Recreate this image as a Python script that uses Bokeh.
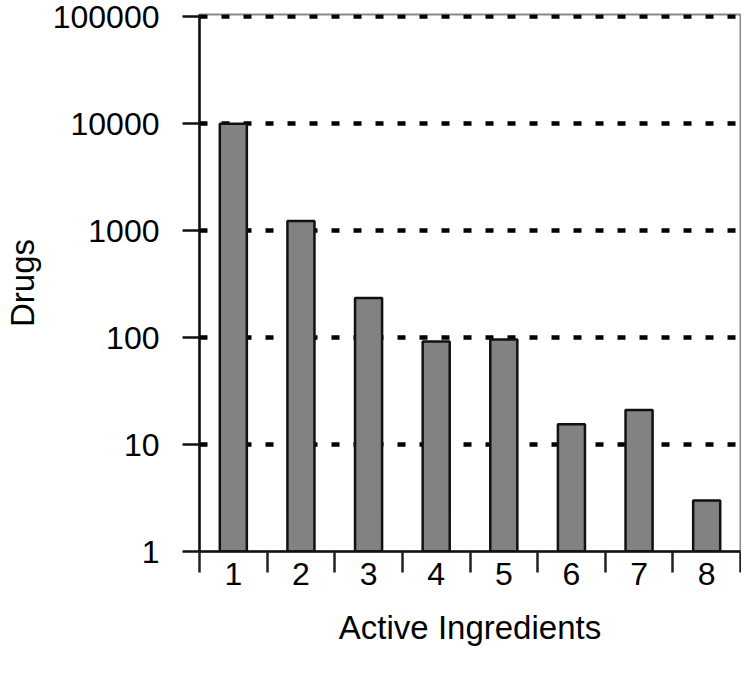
from bokeh.plotting import figure
from bokeh.models import Range1d, FixedTicker, CustomJSTickFormatter
from bokeh.embed import file_html
from bokeh.resources import INLINE

ingredients = [1, 2, 3, 4, 5, 6, 7, 8]
drugs = [10000, 1230, 235, 92, 96, 15.5, 21, 3]
y_ticks = [1, 10, 100, 1000, 10000, 100000]
x_ticks = [1, 2, 3, 4, 5, 6, 7, 8]
x_bounds = [0.5, 1.5, 2.5, 3.5, 4.5, 5.5, 6.5, 7.5, 8.5]

FONT = "Liberation Sans"
INK = "#000000"

p = figure(width=741, height=660, output_backend="svg", toolbar_location=None,
           y_axis_type="log", x_range=Range1d(0.5, 8.5), y_range=Range1d(1, 105000),
           min_border_left=198, min_border_right=1, min_border_top=14, min_border_bottom=109)

p.vbar(x=ingredients, top=drugs, bottom=1, width=0.4, fill_color="#828282",
       line_color="#111111", line_width=2.5)

# x axis
p.xaxis.ticker = FixedTicker(ticks=x_ticks, minor_ticks=x_bounds)
p.xaxis.major_tick_out = 0
p.xaxis.major_tick_in = 0
p.xaxis.minor_tick_out = 21
p.xaxis.minor_tick_in = 0
p.xaxis.minor_tick_line_width = 2.5
p.xaxis.minor_tick_line_color = "#222222"
p.xaxis.axis_line_width = 2.5
p.xaxis.axis_line_color = "#111111"
p.xaxis.major_label_text_font = FONT
p.xaxis.major_label_text_font_size = "32px"
p.xaxis.major_label_text_color = INK
p.xaxis.major_label_standoff = -10
p.xaxis.axis_label = "Active Ingredients"
p.xaxis.axis_label_text_font = FONT
p.xaxis.axis_label_text_font_size = "33px"
p.xaxis.axis_label_text_font_style = "normal"
p.xaxis.axis_label_text_color = INK
p.xaxis.axis_label_standoff = 21

# y axis
p.yaxis.ticker = FixedTicker(ticks=y_ticks, minor_ticks=[])
p.yaxis.formatter = CustomJSTickFormatter(code="return tick.toFixed(0);")
p.yaxis.major_tick_out = 17
p.yaxis.major_tick_in = 0
p.yaxis.major_tick_line_width = 2.5
p.yaxis.major_tick_line_color = "#111111"
p.yaxis.axis_line_width = 2.5
p.yaxis.axis_line_color = "#111111"
p.yaxis.major_label_text_font = FONT
p.yaxis.major_label_text_font_size = "32px"
p.yaxis.major_label_text_color = INK
p.yaxis.major_label_standoff = 23
p.yaxis.axis_label = "Drugs"
p.yaxis.axis_label_text_font = FONT
p.yaxis.axis_label_text_font_size = "33px"
p.yaxis.axis_label_text_font_style = "normal"
p.yaxis.axis_label_text_color = INK
p.yaxis.axis_label_standoff = 9

# grid
p.xgrid.grid_line_color = None
p.ygrid.ticker = FixedTicker(ticks=y_ticks)
p.ygrid.grid_line_color = "#000000"
p.ygrid.grid_line_width = 4.5
p.ygrid.grid_line_dash = "8 14"

p.outline_line_color = "#8a8a8a"
p.outline_line_width = 2
p.background_fill_color = "white"
p.border_fill_color = "white"

open("out.html", "w").write(file_html(p, INLINE))
